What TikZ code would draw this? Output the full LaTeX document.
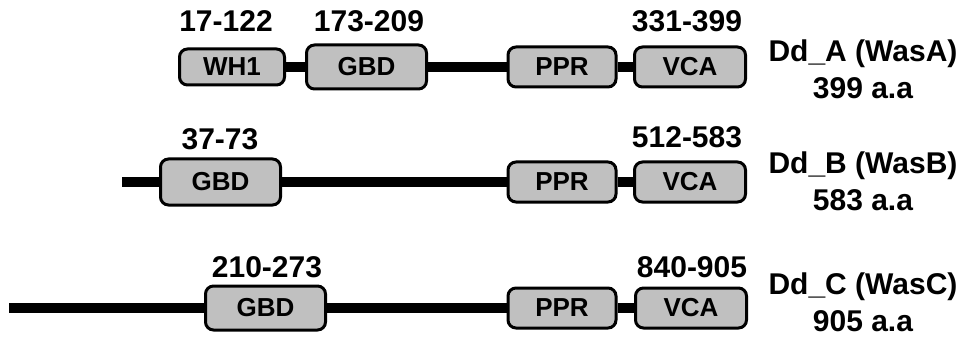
\documentclass[tikz,border=0pt]{standalone}
\usepackage{fontspec}
\setmainfont{Liberation Sans}
\usetikzlibrary{positioning}
\definecolor{boxgray}{RGB}{192,192,192}
\begin{document}
\begin{tikzpicture}[x=1pt,y=-1pt]

\tikzstyle{dom}=[rectangle, rounded corners=8pt, draw, line width=3pt, fill=boxgray, minimum width=108pt, minimum height=40pt, inner sep=0pt, font=\fontsize{26}{26}\selectfont\bfseries]
\tikzstyle{numlbl}=[anchor=base, inner sep=0pt, font=\fontsize{30}{30}\selectfont\bfseries]
\tikzstyle{protlbl}=[align=center, inner sep=0pt, font=\fontsize{30}{37}\selectfont\bfseries]
\tikzstyle{backbone}=[line width=10pt]

\useasboundingbox (0,0) rectangle (968,339);

% Dd_A
\node (wh1A) [dom, minimum width=105pt, minimum height=36pt] at (232,67) {WH1};
\node (gbdA) [dom, minimum width=120pt, minimum height=44pt] at (366.5,67) {GBD};
\node (pprA) [dom] at (562,67) {PPR};
\node (vcaA) [dom, minimum width=111pt] at (690,67) {VCA};

\node [numlbl] at (226,32) {17-122};
\node [numlbl] at (369,32) {173-209};
\node [numlbl] at (687,32) {331-399};
\node (protA) [protlbl] at (863,69) {Dd\_A (WasA)\\399 a.a};

\draw [backbone] (wh1A) -- (gbdA) -- (pprA) -- (vcaA);

% Dd_B
\coordinate (startB) at (122,182);
\node (gbdB) [dom, minimum width=120pt, minimum height=46pt] at (220.5,182) {GBD};
\node (pprB) [dom] at (562,182) {PPR};
\node (vcaB) [dom, minimum width=111pt] at (690,182) {VCA};

\node [numlbl] at (220,150) {37-73};
\node [numlbl] at (687,148) {512-583};
\node (protB) [protlbl] at (863,181) {Dd\_B (WasB)\\583 a.a};

\draw [backbone] (startB) -- (gbdB) -- (pprB) -- (vcaB);

% Dd_C
\coordinate (startC) at (9,308);
\node (gbdC) [dom, minimum width=120pt, minimum height=44pt] at (265.5,308) {GBD};
\node (pprC) [dom] at (562,308) {PPR};
\node (vcaC) [dom, minimum width=111pt] at (691,308) {VCA};

\node [numlbl] at (267,277) {210-273};
\node [numlbl] at (692,277) {840-905};
\node (protC) [protlbl] at (863,302) {Dd\_C (WasC)\\905 a.a};

\draw [backbone] (startC) -- (gbdC) -- (pprC) -- (vcaC);

\end{tikzpicture}
\end{document}
